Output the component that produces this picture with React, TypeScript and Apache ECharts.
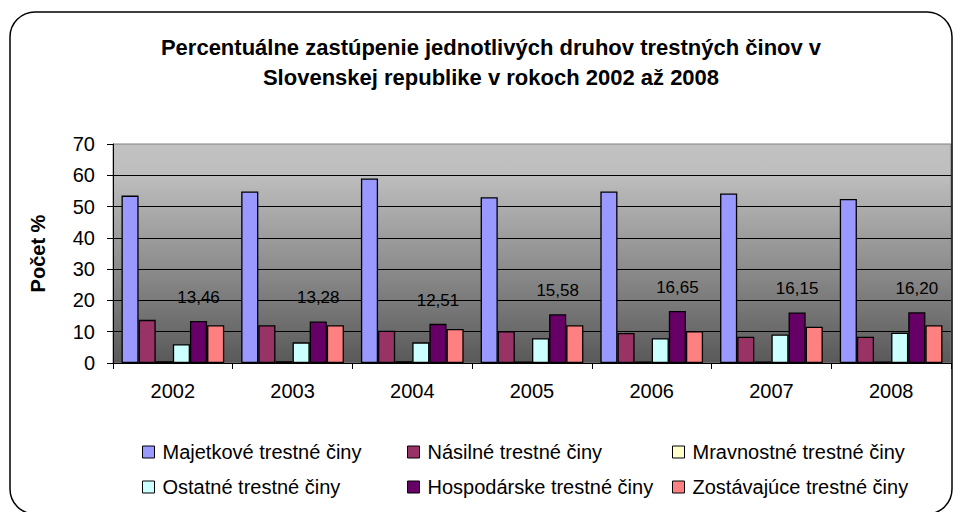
import React, { useEffect, useRef } from "react";
import * as echarts from "echarts";

const categories = ["2002", "2003", "2004", "2005", "2006", "2007", "2008"];
const seriesNames = [
  "Majetkové trestné činy",
  "Násilné trestné činy",
  "Mravnostné trestné činy",
  "Ostatné trestné činy",
  "Hospodárske trestné činy",
  "Zostávajúce trestné činy",
];
const majetkove = [53.5, 54.8, 59.0, 53.0, 54.8, 54.2, 52.4];
const nasilne = [13.8, 12.1, 10.3, 10.2, 9.6, 8.4, 8.4];
const mravnostne = [0.6, 0.6, 0.6, 0.5, 0.5, 0.5, 0.5];
const ostatne = [6.0, 6.6, 6.6, 7.9, 7.9, 9.1, 9.7];
const hospodarske = [13.46, 13.28, 12.51, 15.58, 16.65, 16.15, 16.2];
const zostavajuce = [12.1, 12.1, 10.9, 12.1, 10.2, 11.6, 12.1];
const colors = ["#9999FF", "#993366", "#FFFFCC", "#CCFFFF", "#660066", "#FF8080"];

const FONT = "'Liberation Sans', Arial, sans-serif";

export default function App() {
  const ref = useRef<HTMLDivElement>(null);
  useEffect(() => {
    if (!ref.current) return;
    const chart = echarts.init(ref.current, null, { renderer: "svg" });
    const data = [majetkove, nasilne, mravnostne, ostatne, hospodarske, zostavajuce];
    const legendPos = [
      [142, 442],
      [407, 442],
      [672, 442],
      [142, 477],
      [407, 477],
      [672, 477],
    ];
    chart.setOption({
      animation: false,
      backgroundColor: "#ffffff",
      color: colors,
      title: {
        text: "Percentuálne zastúpenie jednotlivých druhov trestných činov v\nSlovenskej republike v rokoch 2002 až 2008",
        left: 486,
        top: 27,
        textAlign: "center",
        textStyle: {
          fontFamily: FONT,
          fontSize: 22,
          fontWeight: "bold",
          color: "#000",
          lineHeight: 30,
        },
      },
      legend: seriesNames.map((n, i) => ({
        data: [n],
        left: legendPos[i][0],
        top: legendPos[i][1],
        padding: 0,
        itemWidth: 12,
        itemHeight: 12,
        icon: "rect",
        selectedMode: false,
        itemStyle: { borderColor: "#000", borderWidth: 1 },
        textStyle: {
          fontFamily: FONT,
          fontSize: 20,
          color: "#000",
          padding: [0, 0, 0, 3],
        },
      })),
      grid: {
        left: 113,
        right: 9,
        top: 144,
        bottom: 149,
        show: true,
        borderColor: "#808080",
        borderWidth: 1,
        backgroundColor: new echarts.graphic.LinearGradient(0, 0, 0, 1, [
          { offset: 0, color: "#c2c2c2" },
          { offset: 0.15, color: "#bdbdbd" },
          { offset: 1, color: "#595959" },
        ]),
        outerBoundsMode: "none",
      },
      xAxis: {
        type: "category",
        data: categories,
        axisLine: { lineStyle: { color: "#000", width: 1 } },
        axisTick: { show: true, length: 6, lineStyle: { color: "#000" } },
        axisLabel: { fontFamily: FONT, fontSize: 20, color: "#000", margin: 18 },
        splitLine: { show: false },
      },
      yAxis: {
        type: "value",
        min: 0,
        max: 70,
        interval: 10,
        name: "Počet %",
        nameLocation: "middle",
        nameGap: 65,
        nameTextStyle: { fontFamily: FONT, fontSize: 20, fontWeight: "bold", color: "#000" },
        axisLine: { show: true, lineStyle: { color: "#000", width: 1 } },
        axisTick: { show: true, length: 6, lineStyle: { color: "#000" } },
        axisLabel: { fontFamily: FONT, fontSize: 20, color: "#000", margin: 18 },
        splitLine: { show: true, showMaxLine: false, lineStyle: { color: "#000", width: 1 } },
      },
      series: seriesNames.map((n, i) => ({
        name: n,
        type: "bar",
        data: data[i],
        barGap: "0%",
        barCategoryGap: "14.2%",
        itemStyle: { color: colors[i], borderColor: "#000", borderWidth: 1.3 },
        label:
          i === 4
            ? {
                show: true,
                position: "top",
                distance: 15,
                fontFamily: FONT,
                fontSize: 17,
                color: "#000",
                formatter: (p: any) => Number(p.value).toFixed(2).replace(".", ","),
              }
            : { show: false },
      })),
      graphic: [
        {
          type: "rect",
          shape: { x: 10, y: 12, width: 942, height: 502, r: 25 },
          style: { fill: "none", stroke: "#000", lineWidth: 1.5 },
          silent: true,
          z: 100,
        },
      ],
    });
    return () => chart.dispose();
  }, []);
  return (
    <div
      ref={ref}
      style={{ position: "absolute", left: 0, top: 0, width: 960, height: 512, background: "#fff" }}
    />
  );
}
